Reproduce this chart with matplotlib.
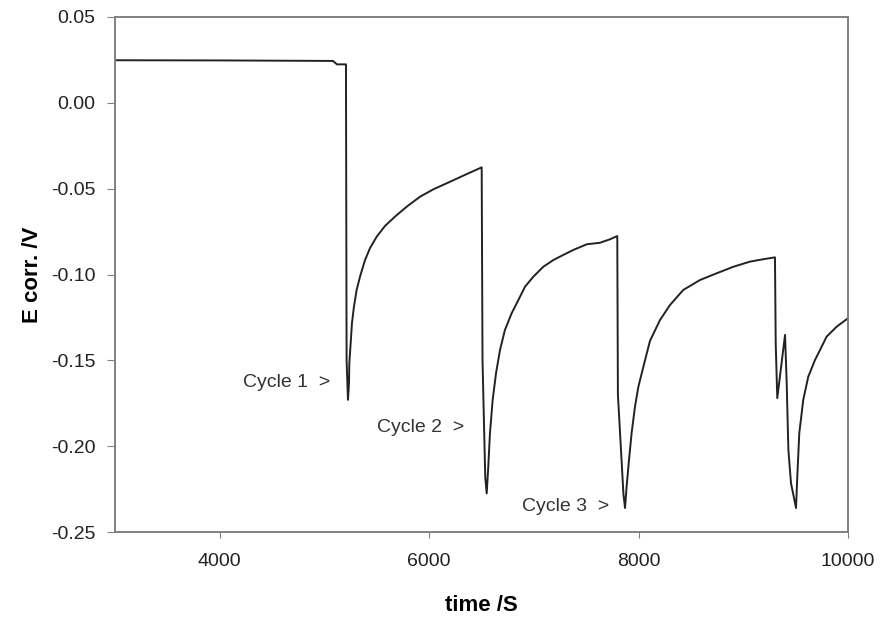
import matplotlib.pyplot as plt

# time (s) and corrosion potential (V)
time_s = [3000, 4000, 5082, 5120, 5206, 5212, 5225,
          # cycle 1 recovery
          5235, 5238, 5251, 5263, 5282, 5308, 5340, 5388, 5435, 5499,
          5579, 5674, 5786, 5913, 6040, 6199, 6359, 6502,
          # cycle 2
          6510, 6536, 6550,
          6565, 6581, 6607, 6639, 6677, 6724, 6788, 6852, 6916, 6995,
          7090, 7186, 7281, 7377, 7505, 7632, 7727, 7797,
          # cycle 3
          7803, 7856, 7871,
          7886, 7909, 7934, 7966, 7998, 8045, 8109, 8205, 8300, 8427,
          8587, 8746, 8905, 9064, 9191, 9303,
          # cycle 4 (double dip)
          9310, 9325, 9399, 9415, 9431, 9456, 9504,
          9516, 9535, 9573, 9621, 9685, 9733, 9796, 9892, 10000]
e_corr = [0.0248, 0.0247, 0.0244, 0.0224, 0.0224, -0.150, -0.173,
          -0.1634, -0.1517, -0.140, -0.1284, -0.1188, -0.109, -0.1013, -0.0916, -0.0847, -0.078,
          -0.0717, -0.0663, -0.0605, -0.0547, -0.0504, -0.046, -0.0415, -0.0376,
          -0.150, -0.218, -0.2275,
          -0.212, -0.1925, -0.173, -0.1575, -0.144, -0.1323, -0.1226, -0.1149, -0.1071, -0.1013,
          -0.0955, -0.0916, -0.0886, -0.0857, -0.0824, -0.0815, -0.0795, -0.0776,
          -0.170, -0.228, -0.236,
          -0.2236, -0.208, -0.1923, -0.177, -0.1655, -0.154, -0.1387, -0.1265, -0.1178, -0.109,
          -0.1032, -0.0993, -0.0955, -0.0925, -0.0911, -0.090,
          -0.140, -0.172, -0.1352, -0.1634, -0.2022, -0.2216, -0.236,
          -0.2178, -0.1925, -0.173, -0.1595, -0.1498, -0.144, -0.1362, -0.1304, -0.1255]

labels = ["Cycle 1  >", "Cycle 2  >", "Cycle 3  >"]
label_x = [5060, 6340, 7720]
label_y = [-0.163, -0.189, -0.235]

plt.rcParams['font.family'] = ['Liberation Sans', 'DejaVu Sans']

fig, ax = plt.subplots(figsize=(8.81, 6.2), dpi=100)
fig.subplots_adjust(left=0.1305, right=0.9625, top=0.9726, bottom=0.1419)

ax.plot(time_s, e_corr, color='#222222', linewidth=1.4)

for txt, tx, ty in zip(labels, label_x, label_y):
    ax.text(tx, ty, txt, ha='right', va='center', fontsize=14, color='#333333')

ax.set_xlim(3000, 10000)
ax.set_ylim(-0.25, 0.05)
ax.set_xticks([4000, 6000, 8000, 10000])
ax.set_yticks([0.05, 0.0, -0.05, -0.10, -0.15, -0.20, -0.25])
ax.set_yticklabels(["0.05", "0.00", "-0.05", "-0.10", "-0.15", "-0.20", "-0.25"])

for s in ax.spines.values():
    s.set_color('#808080')
    s.set_linewidth(1.4)
ax.tick_params(axis='both', colors='#808080', labelcolor='#222222',
               labelsize=14, direction='out')
ax.tick_params(axis='x', length=4, pad=11)
ax.tick_params(axis='y', length=6, pad=8)

ax.set_xlabel('time /S', fontsize=16, fontweight='bold', labelpad=18)
ax.set_ylabel('E corr. /V', fontsize=16, fontweight='bold', labelpad=6)

fig.savefig('out.png', dpi=100)
